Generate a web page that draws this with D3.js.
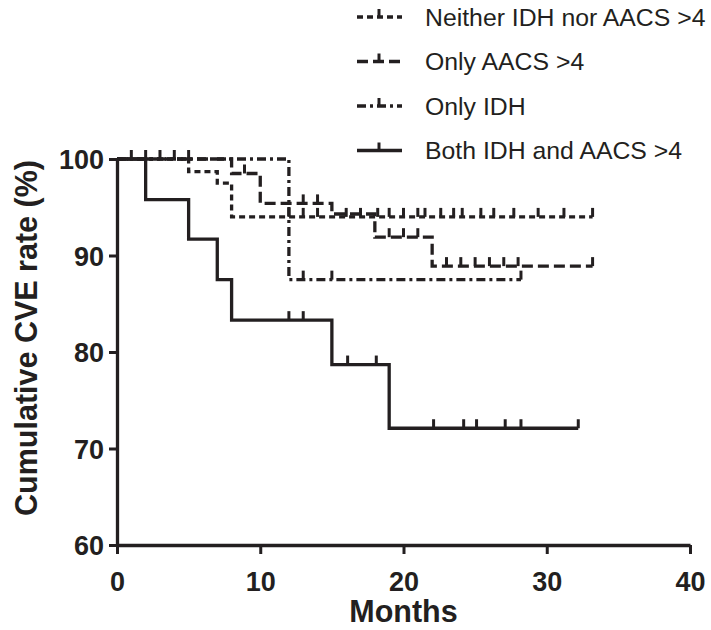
<!DOCTYPE html>
<html>
<head>
<meta charset="utf-8">
<script src="https://cdn.jsdelivr.net/npm/d3@7"></script>
<style>
    body { margin: 0; background: #fff; }
    svg text { font-family: Arial, "Liberation Sans", sans-serif; fill: #231f20; }
    .tick-label { font-weight: bold; font-size: 27px; }
    .axis-label { font-weight: bold; font-size: 30.5px; }
    .legend-label { font-size: 24.8px; }
</style>
</head>
<body>
<div id="chart"></div>
<script>
(function() {

    // x ticks / y ticks
    var xTicks = [0, 10, 20, 30, 40],
        yTicks = [60, 70, 80, 90, 100];

    // Neither IDH nor AACS >4
    var neitherTimes = [0, 5, 7, 8],
        neitherRates = [100, 98.7, 97.5, 94.0],
        neitherEnd = 33.2,
        neitherCensor = [1, 3, 12, 13, 14, 16, 17, 18.2, 19, 20, 21, 21.5, 22.6, 23.5, 24.1, 25.4, 26.3, 27.7, 29.4, 31.2, 33.2];

    // Only AACS >4
    var aacsTimes = [0, 8, 10, 15, 18, 22],
        aacsRates = [100, 98.5, 95.4, 94.3, 91.9, 88.9],
        aacsEnd = 33.2,
        aacsCensor = [4, 8.9, 13, 14, 19, 20, 21, 23, 24, 25, 26, 27, 28, 33.2];

    // Only IDH
    var idhTimes = [0, 12],
        idhRates = [100, 87.5],
        idhEnd = 28.2,
        idhCensor = [2, 5, 13, 15, 28.2];

    // Both IDH and AACS >4
    var bothTimes = [0, 2, 5, 7, 8, 15, 19],
        bothRates = [100, 95.8, 91.7, 87.5, 83.3, 78.7, 72.1],
        bothEnd = 32.2,
        bothCensor = [12, 13, 16.1, 18.1, 22.1, 24.2, 25.1, 27.1, 28.2, 32.2];

    var seriesNames = ["Neither IDH nor AACS >4", "Only AACS >4", "Only IDH", "Both IDH and AACS >4"];

    var series = [
        { name: seriesNames[0], times: neitherTimes, rates: neitherRates, end: neitherEnd, censor: neitherCensor, dash: "6,4" },
        { name: seriesNames[1], times: aacsTimes, rates: aacsRates, end: aacsEnd, censor: aacsCensor, dash: "11,5" },
        { name: seriesNames[2], times: idhTimes, rates: idhRates, end: idhEnd, censor: idhCensor, dash: "9,4,3,4" },
        { name: seriesNames[3], times: bothTimes, rates: bothRates, end: bothEnd, censor: bothCensor, dash: null }
    ];

    var ink = "#231f20";

    var margins = { top: 159, right: 21, bottom: 85, left: 117 },
        outerWidth = 711,
        outerHeight = 630;

    var width = outerWidth - margins.left - margins.right,
        height = outerHeight - margins.top - margins.bottom;

    var x = d3.scaleLinear().domain([0, 40]).range([0, width]),
        y = d3.scaleLinear().domain([60, 100]).range([height, 0]);

    var svg = d3.select("#chart")
        .append("svg")
        .attr("width", outerWidth)
        .attr("height", outerHeight)
        .append("g")
        .attr("transform", "translate(" + margins.left + "," + margins.top + ")");

    // rate at time t (step function)
    var rateAt = function(s, t) {
        var r = s.rates[0];
        s.times.forEach(function(tt, i) { if (tt <= t + 1e-9) r = s.rates[i]; });
        return r;
    };

    var stepLine = d3.line()
        .x(function(d) { return x(d[0]); })
        .y(function(d) { return y(d[1]); })
        .curve(d3.curveStepAfter);

    series.forEach(function(s) {
        var pts = s.times.map(function(t, i) { return [t, s.rates[i]]; });
        pts.push([s.end, s.rates[s.rates.length - 1]]);

        var g = svg.append("g").attr("class", "km");

        g.append("path")
            .attr("d", stepLine(pts))
            .attr("fill", "none")
            .attr("stroke", ink)
            .attr("stroke-width", 3.3)
            .attr("stroke-dasharray", s.dash);

        g.selectAll("line.censor")
            .data(s.censor)
            .enter().append("line")
            .attr("class", "censor")
            .attr("x1", function(d) { return x(d); })
            .attr("x2", function(d) { return x(d); })
            .attr("y1", function(d) { return y(rateAt(s, d)); })
            .attr("y2", function(d) { return y(rateAt(s, d)) - 9; })
            .attr("stroke", ink)
            .attr("stroke-width", 3);
    });

    // axes
    var xAxis = svg.append("g")
        .attr("transform", "translate(0," + height + ")")
        .call(d3.axisBottom(x).tickValues(xTicks).tickSize(9).tickSizeOuter(0));

    var yAxis = svg.append("g")
        .call(d3.axisLeft(y).tickValues(yTicks).tickSize(8).tickSizeOuter(0));

    [xAxis, yAxis].forEach(function(a) {
        a.select(".domain").attr("stroke", ink).attr("stroke-width", 3.3);
        a.selectAll(".tick line").attr("stroke", ink).attr("stroke-width", 3);
        a.selectAll(".tick text")
            .attr("class", "tick-label")
            .attr("font-family", null)
            .attr("font-size", null)
            .attr("fill", ink);
    });
    xAxis.selectAll(".tick text").attr("dy", "1.25em");
    yAxis.selectAll(".tick text").attr("x", -13).attr("dy", "0.36em");

    // axis labels
    svg.append("text")
        .attr("class", "axis-label")
        .attr("text-anchor", "middle")
        .attr("x", x(20))
        .attr("y", height + 77)
        .text("Months");

    svg.append("text")
        .attr("class", "axis-label")
        .attr("text-anchor", "middle")
        .attr("x", -179)
        .attr("y", -80)
        .attr("transform", "rotate(-90)")
        .text("Cumulative CVE rate (%)");

    // legend
    var legend = d3.select("svg").append("g")
        .attr("transform", "translate(357,17)");

    var rows = legend.selectAll("g")
        .data(series)
        .enter().append("g")
        .attr("transform", function(d, i) { return "translate(0," + (i * 44.5) + ")"; });

    rows.append("line")
        .attr("x1", 0).attr("x2", 45)
        .attr("y1", 0).attr("y2", 0)
        .attr("stroke", ink)
        .attr("stroke-width", 3.3)
        .attr("stroke-dasharray", function(d) { return d.dash; });

    rows.append("line")
        .attr("x1", 22).attr("x2", 22)
        .attr("y1", 0).attr("y2", -8)
        .attr("stroke", ink)
        .attr("stroke-width", 3);

    rows.append("text")
        .attr("class", "legend-label")
        .attr("x", 68)
        .attr("dy", "0.35em")
        .text(function(d) { return d.name; });

})();
</script>
</body>
</html>
